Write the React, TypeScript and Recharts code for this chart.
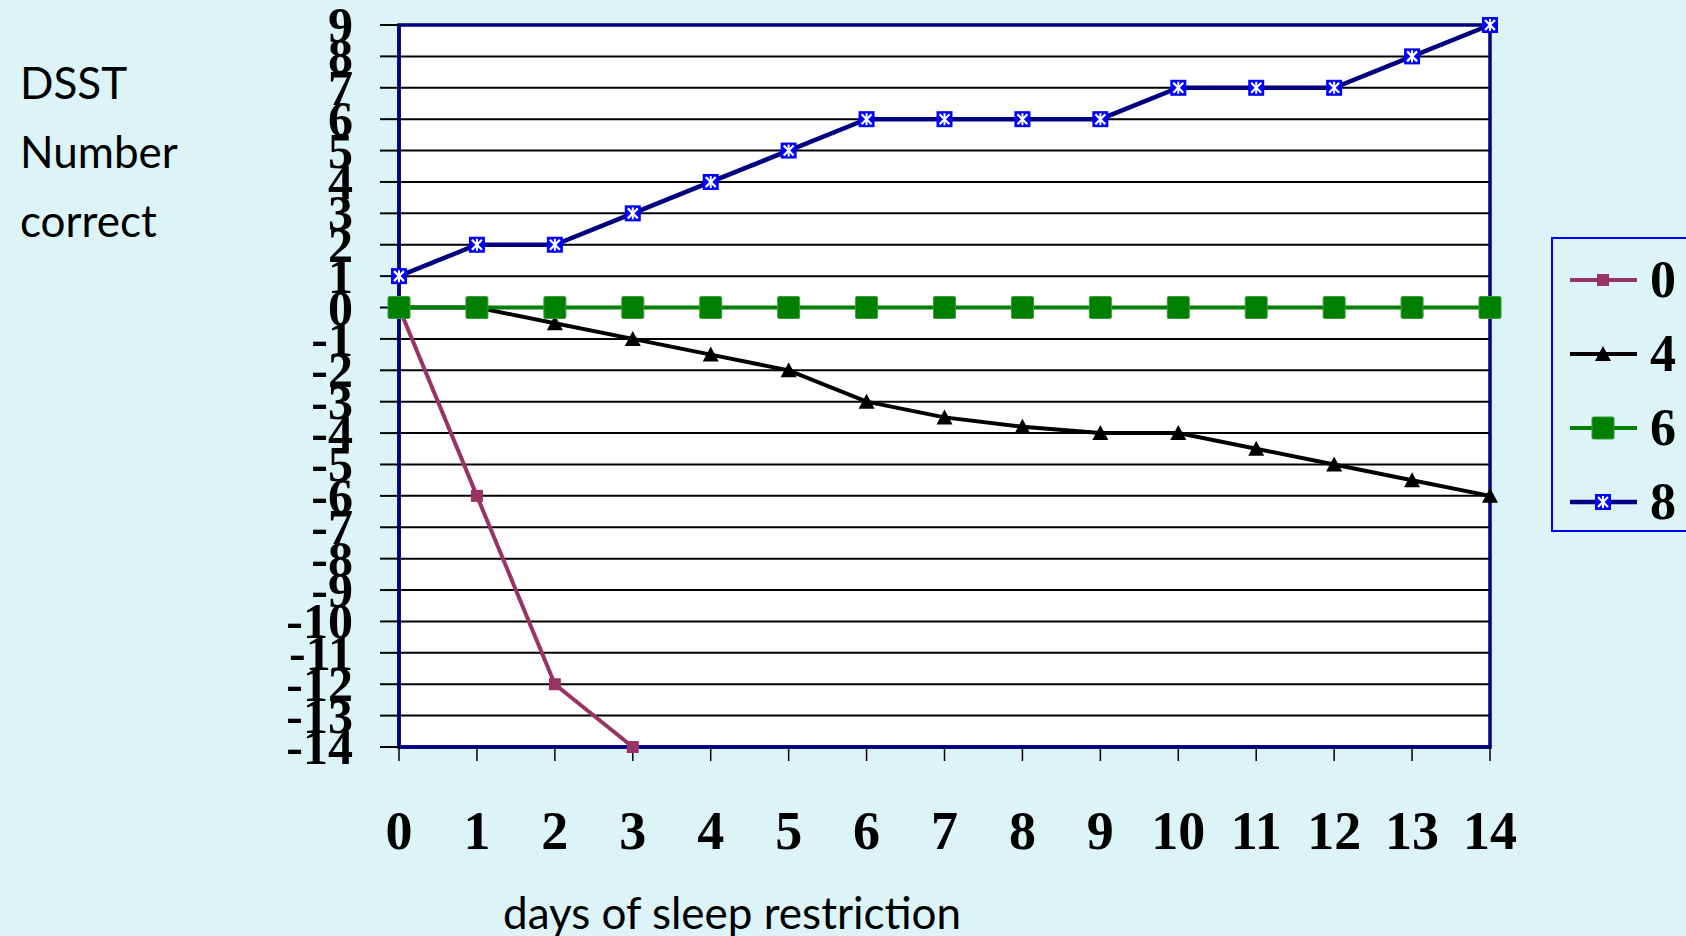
import React from 'react';
import { LineChart, Line, XAxis, YAxis, CartesianGrid, ReferenceArea } from 'recharts';

// Days of sleep restriction
const days = [0, 1, 2, 3, 4, 5, 6, 7, 8, 9, 10, 11, 12, 13, 14];

// Change in DSST number correct per sleep condition (hours in bed)
const restrict0h = [0, -6, -12, -14];
const restrict4h = [0, 0, -0.5, -1, -1.5, -2, -3, -3.5, -3.8, -4, -4, -4.5, -5, -5.5, -6];
const restrict6h = [0, 0, 0, 0, 0, 0, 0, 0, 0, 0, 0, 0, 0, 0, 0];
const restrict8h = [1, 2, 2, 3, 4, 5, 6, 6, 6, 6, 7, 7, 7, 8, 9];

const yTicks = [9, 8, 7, 6, 5, 4, 3, 2, 1, 0, -1, -2, -3, -4, -5, -6, -7, -8, -9, -10, -11, -12, -13, -14];
const seriesLabels = ['0', '4', '6', '8'];

const BG = '#DCF3F8';
const NAVY = '#000080';
const SERIF = '"Liberation Serif", "Times New Roman", serif';
const SANS = 'Lato, "Open Sans", sans-serif';

const data = days.map((d, i) => ({
  day: d,
  s0: i < restrict0h.length ? restrict0h[i] : null,
  s4: restrict4h[i],
  s6: restrict6h[i],
  s8: restrict8h[i],
}));

type MarkProps = { cx: number; cy: number };

const PlumSquare = ({ cx, cy }: MarkProps) => (
  <rect x={cx - 6} y={cy - 6} width={12} height={12} fill="#993366" />
);
const BlackTriangle = ({ cx, cy }: MarkProps) => (
  <polygon points={`${cx},${cy - 8} ${cx + 8},${cy + 7} ${cx - 8},${cy + 7}`} fill="#000" />
);
const GreenSquare = ({ cx, cy }: MarkProps) => (
  <rect x={cx - 11} y={cy - 11} width={22} height={22} rx={1.5} fill="#008000" stroke="#3c9a3c" strokeWidth={1} />
);
const BlueStar = ({ cx, cy }: MarkProps) => (
  <g>
    <rect x={cx - 8} y={cy - 8} width={16} height={16} fill="#0000FF" />
    <line x1={cx - 5} y1={cy - 5} x2={cx + 5} y2={cy + 5} stroke="#fff" strokeWidth={2.2} />
    <line x1={cx - 5} y1={cy + 5} x2={cx + 5} y2={cy - 5} stroke="#fff" strokeWidth={2.2} />
    <line x1={cx} y1={cy - 6} x2={cx} y2={cy + 6} stroke="#fff" strokeWidth={2} />
  </g>
);

const seriesStyles = [
  { key: 's0', color: '#993366', width: 4, Mark: PlumSquare },
  { key: 's4', color: '#000000', width: 4, Mark: BlackTriangle },
  { key: 's6', color: '#008000', width: 4, Mark: GreenSquare },
  { key: 's8', color: NAVY, width: 4.5, Mark: BlueStar },
];

const dotFor = (Mark: React.FC<MarkProps>) => (p: any) => {
  if (p.cx == null || p.cy == null || p.value == null) return <g key={`e-${p.index}`} />;
  return <Mark key={`m-${p.index}`} cx={p.cx} cy={p.cy} />;
};

const YTick = ({ x, y, payload }: any) => (
  <text x={x} y={y} textAnchor="end" dominantBaseline="central" fontFamily={SERIF} fontWeight="bold" fontSize={50} fill="#000">
    {payload.value}
  </text>
);

const XTick = ({ x, y, payload }: any) => (
  <text x={x} y={y} textAnchor="middle" dominantBaseline="central" fontFamily={SERIF} fontWeight="bold" fontSize={54} fill="#000">
    {payload.value}
  </text>
);

// draw order: plum, black, navy, then green on top
const drawOrder = [0, 1, 3, 2];

export default function App() {
  return (
    <div style={{ position: 'absolute', left: 0, top: 0, width: 1686, height: 936, background: BG, overflow: 'hidden' }}>
      <div style={{ position: 'absolute', left: 20, top: 48, fontFamily: SANS, fontSize: 44, lineHeight: '69px', color: '#000' }}>
        <div>DSST</div>
        <div>Number</div>
        <div>correct</div>
      </div>
      <LineChart width={1686} height={936} data={data} margin={{ top: 25, right: 196, left: 0, bottom: 0 }}>
        <CartesianGrid vertical={false} stroke="#000" strokeWidth={2} fill="#fff" fillOpacity={1} />
        <XAxis
          dataKey="day"
          type="number"
          domain={[0, 14]}
          ticks={days}
          interval={0}
          height={189}
          tickSize={14}
          tickMargin={70}
          tickLine={{ stroke: '#000', strokeWidth: 1.5 }}
          axisLine={{ stroke: NAVY, strokeWidth: 3.5 }}
          tick={<XTick />}
        />
        <YAxis
          type="number"
          domain={[-14, 9]}
          ticks={yTicks}
          interval={0}
          width={399}
          tickSize={19}
          tickMargin={27}
          tickLine={{ stroke: '#000', strokeWidth: 2 }}
          axisLine={{ stroke: NAVY, strokeWidth: 3.5 }}
          tick={<YTick />}
        />
        <ReferenceArea x1={0} x2={14} y1={-14} y2={9} fill="none" stroke={NAVY} strokeWidth={3.5} />
        {drawOrder.map((i) => {
          const s = seriesStyles[i];
          return (
            <Line
              key={s.key}
              dataKey={s.key}
              name={seriesLabels[i]}
              type="linear"
              stroke={s.color}
              strokeWidth={s.width}
              dot={dotFor(s.Mark)}
              activeDot={false}
              isAnimationActive={false}
              connectNulls={false}
            />
          );
        })}
      </LineChart>
      <div
        style={{
          position: 'absolute',
          left: 1551,
          top: 237,
          width: 160,
          height: 295,
          border: '2px solid #0000FF',
          boxSizing: 'border-box',
          background: BG,
        }}
      >
        {seriesStyles.map((s, i) => (
          <div key={s.key} style={{ position: 'absolute', left: 0, top: 41 + i * 74 - 30, height: 60, width: 160 }}>
            <svg width={90} height={60} style={{ position: 'absolute', left: 0, top: 0 }}>
              <line x1={17} y1={30} x2={84} y2={30} stroke={s.color} strokeWidth={s.width} />
              <s.Mark cx={50} cy={30} />
            </svg>
            <span
              style={{
                position: 'absolute',
                left: 97,
                top: 0,
                lineHeight: '60px',
                fontFamily: SERIF,
                fontWeight: 'bold',
                fontSize: 52,
                color: '#000',
              }}
            >
              {seriesLabels[i]}
            </span>
          </div>
        ))}
      </div>
      <div style={{ position: 'absolute', left: 503, top: 882, fontFamily: SANS, fontSize: 44, lineHeight: '60px', color: '#000' }}>
        days of sleep restriction
      </div>
    </div>
  );
}
